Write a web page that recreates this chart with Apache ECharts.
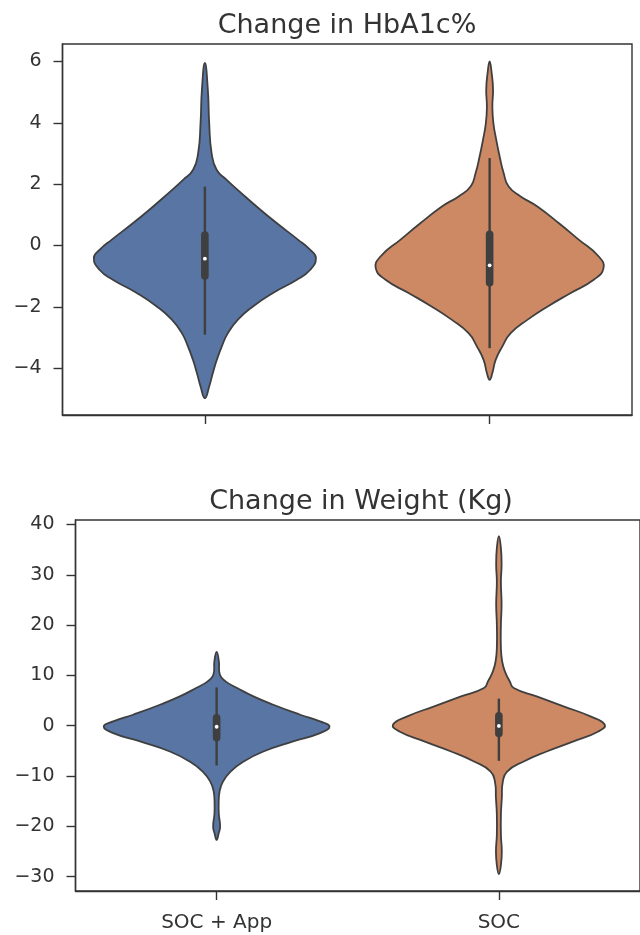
<!DOCTYPE html>
<html>
<head>
<meta charset="utf-8">
<script src="https://cdn.jsdelivr.net/npm/echarts@6/dist/echarts.min.js"></script>
<style>
html,body{margin:0;padding:0;background:#fff;}
#chart{width:640px;height:935px;}
</style>
</head>
<body>
<div id="chart"></div>
<script>
// ---- data ----
const categories = ['SOC + App', 'SOC'];
const titles = ['Change in HbA1c%', 'Change in Weight (Kg)'];

// violin outlines: [value, relative half-width (1 = widest violin of the panel)]
const hba1cAppViolin = [
  [5.95,0],[5.08,0.026],[3.99,0.038],[3.01,0.059],[2.47,0.103],[2.14,0.191],
  [1.70,0.322],[1.27,0.454],[0.73,0.630],[0.19,0.817],[-0.14,0.923],[-0.41,0.975],
  [-0.80,0.923],[-1.12,0.808],[-1.55,0.598],[-1.99,0.422],[-2.42,0.290],[-2.86,0.202],
  [-3.29,0.149],[-3.73,0.105],[-4.16,0.070],[-4.60,0.038],[-4.98,0]
];
const hba1cSocViolin = [
  [6.0,0],[5.62,0.018],[5.08,0.030],[4.53,0.024],[3.99,0.033],[3.45,0.058],
  [2.90,0.088],[2.36,0.123],[1.92,0.167],[1.60,0.272],[1.27,0.419],[0.73,0.606],
  [0.19,0.782],[-0.36,0.958],[-0.74,1.0],[-1.12,0.914],[-1.55,0.712],[-1.99,0.510],
  [-2.42,0.334],[-2.86,0.185],[-3.29,0.112],[-3.73,0.053],[-4.16,0.024],[-4.38,0]
];
const weightAppViolin = [
  [14.67,0],[12.8,0.020],[10.15,0.029],[8.82,0.079],[7.5,0.182],[5.84,0.326],
  [4.18,0.502],[2.19,0.740],[0.86,0.916],[-0.13,1.0],[-1.46,0.916],[-3.12,0.678],
  [-5.12,0.414],[-7.11,0.238],[-9.1,0.123],[-11.1,0.056],[-13.1,0.026],[-15.7,0.018],
  [-17.7,0.020],[-20.1,0.031],[-21.4,0.018],[-22.7,0]
];
const weightSocViolin = [
  [37.7,0],[35.3,0.018],[32.0,0.024],[28.7,0.018],[24.1,0.024],[20.1,0.018],
  [15.5,0.018],[12.8,0.029],[10.8,0.053],[8.8,0.097],[7.5,0.132],[5.84,0.335],
  [3.85,0.573],[1.86,0.811],[0.20,0.938],[-1.13,0.881],[-3.12,0.661],[-5.12,0.423],
  [-7.1,0.220],[-9.1,0.073],[-11.1,0.035],[-14.4,0.026],[-17.7,0.018],[-21.7,0.018],
  [-25.0,0.026],[-27.7,0.018],[-29.5,0]
];

// inner box: [whisker low, q1, median, q3, whisker high]
const hba1cBox = [[-2.91,-1.12,-0.43,0.46,1.92],[-3.35,-1.34,-0.65,0.49,2.85]];
const weightBox = [[-7.9,-3.12,-0.2,2.32,7.62],[-6.97,-2.32,-0.04,2.72,5.4]];

const hba1cTicks = [-4,-2,0,2,4,6];
const weightTicks = [-30,-20,-10,0,10,20,30,40];
const hba1cRange = [-5.53, 6.57];
const weightRange = [-32.85, 40.9];

// ---- styling ----
const fills = ['#5875a4', '#cc8963'];
const edge = '#3f3f3f';
const axisColor = '#333333';
const font = 'DejaVu Sans';

function makeRender(violins, boxes) {
  return function (params, api) {
    const i = api.value(0);
    const band = api.size([1, 0])[0];
    const half = band * 0.4;
    const cx = api.coord([i, 0])[0];
    const v = violins[i];
    const left = v.map(p => [cx - p[1] * half, api.coord([i, p[0]])[1]]);
    const right = v.slice(1, v.length - 1).reverse().map(p => [cx + p[1] * half, api.coord([i, p[0]])[1]]);
    const pts = left.concat(right);
    const b = boxes[i];
    const yWlo = api.coord([i, b[0]])[1];
    const yQ1 = api.coord([i, b[1]])[1];
    const yMed = api.coord([i, b[2]])[1];
    const yQ3 = api.coord([i, b[3]])[1];
    const yWhi = api.coord([i, b[4]])[1];
    return {
      type: 'group',
      children: [
        {
          type: 'polygon',
          shape: { points: pts, smooth: 0.5 },
          style: { fill: fills[i], stroke: edge, lineWidth: 1.8 }
        },
        {
          type: 'line',
          shape: { x1: cx, y1: yWhi, x2: cx, y2: yWlo },
          style: { stroke: edge, lineWidth: 2.4 }
        },
        {
          type: 'rect',
          shape: { x: cx - 3.8, y: yQ3, width: 7.6, height: yQ1 - yQ3, r: 3.8 },
          style: { fill: edge }
        },
        {
          type: 'circle',
          shape: { cx: cx, cy: yMed, r: 1.9 },
          style: { fill: '#ffffff' }
        }
      ]
    };
  };
}

const minusFmt = v => String(v).replace('-', '\u2212');

function yAxis(idx, ticks, range) {
  return {
    type: 'value', gridIndex: idx, min: range[0], max: range[1],
    splitLine: { show: false },
    axisLine: { show: true, onZero: false, lineStyle: { color: axisColor, width: 1.4 } },
    axisTick: { show: true, length: 9, customValues: ticks, lineStyle: { color: axisColor, width: 1.4 } },
    axisLabel: { show: true, customValues: ticks, formatter: minusFmt, fontSize: 19, fontFamily: font, color: axisColor, margin: 21 }
  };
}
function xAxis(idx, showLabels) {
  return {
    type: 'category', gridIndex: idx, data: categories, boundaryGap: true, position: 'bottom',
    axisLine: { show: true, onZero: false, lineStyle: { color: axisColor, width: 1.4 } },
    axisTick: { show: true, alignWithLabel: true, length: 9, lineStyle: { color: axisColor, width: 1.4 } },
    axisLabel: { show: showLabels, fontSize: 20, fontFamily: font, color: axisColor, margin: 22 },
    splitLine: { show: false }
  };
}

const chart = echarts.init(document.getElementById('chart'), null, { renderer: 'canvas' });
chart.setOption({
  animation: false,
  backgroundColor: '#ffffff',
  grid: [
    { left: 62.5, top: 44, width: 569.5, height: 371, show: true, borderColor: axisColor, borderWidth: 1.4, backgroundColor: 'transparent' },
    { left: 75.5, top: 520, width: 567.5, height: 371, show: true, borderColor: axisColor, borderWidth: 1.4, backgroundColor: 'transparent' }
  ],
  xAxis: [xAxis(0, false), xAxis(1, true)],
  yAxis: [yAxis(0, hba1cTicks, hba1cRange), yAxis(1, weightTicks, weightRange)],
  graphic: [
    { type: 'text', x: 347, y: 26, style: { text: titles[0], fontSize: 27, fontFamily: font, fill: axisColor, textAlign: 'center', textVerticalAlign: 'middle' } },
    { type: 'text', x: 361, y: 502, style: { text: titles[1], fontSize: 27, fontFamily: font, fill: axisColor, textAlign: 'center', textVerticalAlign: 'middle' } }
  ],
  series: [
    { type: 'custom', xAxisIndex: 0, yAxisIndex: 0, data: [[0], [1]], renderItem: makeRender([hba1cAppViolin, hba1cSocViolin], hba1cBox), clip: true },
    { type: 'custom', xAxisIndex: 1, yAxisIndex: 1, data: [[0], [1]], renderItem: makeRender([weightAppViolin, weightSocViolin], weightBox), clip: true }
  ]
});
</script>
</body>
</html>
